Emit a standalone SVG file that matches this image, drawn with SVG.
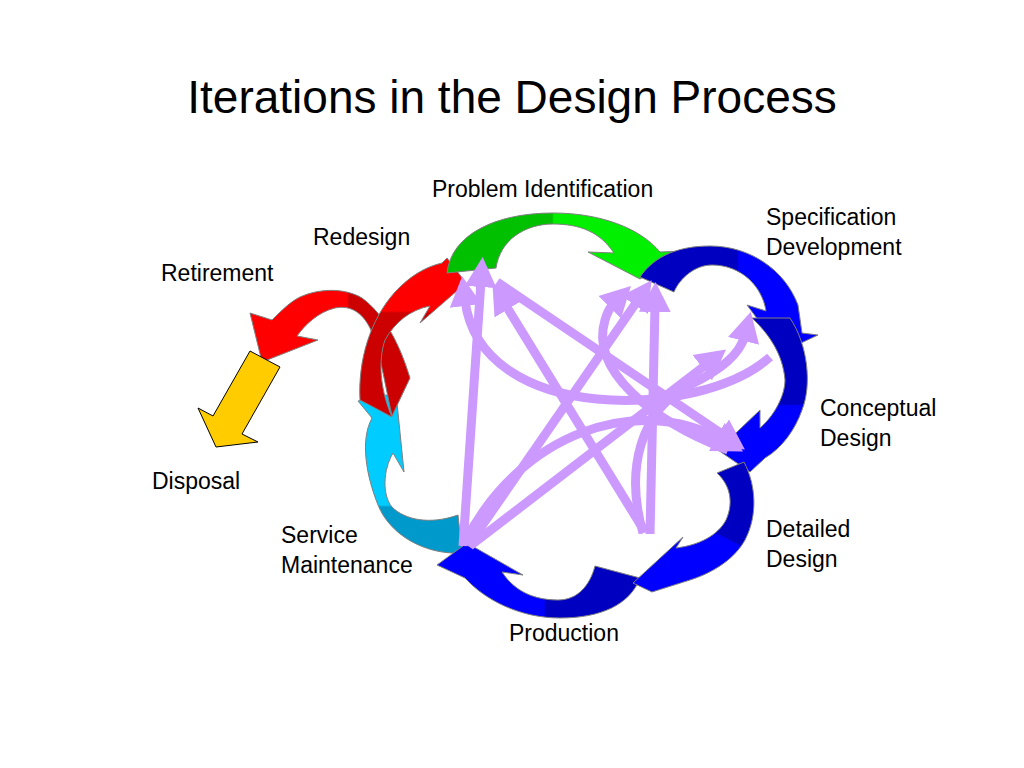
<svg xmlns="http://www.w3.org/2000/svg" width="1024" height="768" viewBox="0 0 1024 768">
<style>
.band{stroke:#808080;stroke-width:1;stroke-linejoin:miter}
.lbl{font-family:"Liberation Sans",Arial,sans-serif;font-size:23px;fill:#000}
.ttl{font-family:"Liberation Sans",Arial,sans-serif;font-size:46px;fill:#000}
.c{fill:none;stroke:#cc99ff;stroke-width:9;marker-end:url(#ah)}
</style>
<defs>
<marker id="ah" viewBox="0 -17 31 34" refX="6" refY="0" markerWidth="31" markerHeight="34" markerUnits="userSpaceOnUse" orient="auto"><path d="M0,-16 L30,0 L0,16 Z" fill="#cc99ff"/></marker>
<linearGradient id="gGreen" gradientUnits="userSpaceOnUse" x1="552" y1="0" x2="554" y2="0"><stop offset="0" stop-color="#00c000"/><stop offset="1" stop-color="#00f000"/></linearGradient>
<linearGradient id="gSpec" gradientUnits="userSpaceOnUse" x1="737" y1="0" x2="739" y2="0"><stop offset="0" stop-color="#0000c0"/><stop offset="1" stop-color="#0000ff"/></linearGradient>
<linearGradient id="gConc" gradientUnits="userSpaceOnUse" x1="0" y1="404" x2="0" y2="406"><stop offset="0" stop-color="#0000c0"/><stop offset="1" stop-color="#0000ff"/></linearGradient>
<linearGradient id="gDet" gradientUnits="userSpaceOnUse" x1="720.46" y1="534.11" x2="719.54" y2="535.89"><stop offset="0" stop-color="#0000c0"/><stop offset="1" stop-color="#0000ff"/></linearGradient>
<linearGradient id="gProd" gradientUnits="userSpaceOnUse" x1="544" y1="0" x2="546" y2="0"><stop offset="0" stop-color="#0000ff"/><stop offset="1" stop-color="#0000c0"/></linearGradient>
<linearGradient id="gServ" gradientUnits="userSpaceOnUse" x1="0" y1="505" x2="0" y2="507"><stop offset="0" stop-color="#00ccff"/><stop offset="1" stop-color="#0099cc"/></linearGradient>
<linearGradient id="gRedes" gradientUnits="userSpaceOnUse" x1="0" y1="311" x2="0" y2="313"><stop offset="0" stop-color="#ff0000"/><stop offset="1" stop-color="#cc0000"/></linearGradient>
<linearGradient id="gRet" gradientUnits="userSpaceOnUse" x1="347" y1="0" x2="349" y2="0"><stop offset="0" stop-color="#ff0000"/><stop offset="1" stop-color="#cc0000"/></linearGradient>
</defs>
<rect width="1024" height="768" fill="#ffffff"/>
<text class="ttl" x="512" y="113" text-anchor="middle">Iterations in the Design Process</text>

<g id="service-maintenance">
<path class="band" fill="url(#gServ)" d="M458,515 L462,553 C425,555 390,535 378,505 C366,475 360,440 372,418 L358,401 L396,393 L404,472 L393,453 C383,470 382,495 392,507 C405,520 430,525 458,515 Z"/>
<text class="lbl" x="281" y="543">Service</text>
<text class="lbl" x="281" y="573">Maintenance</text>
</g>

<g id="retirement">
<path class="band" fill="url(#gRet)" d="M410,378 C400,345 385,315 362,298 C345,288 320,288 300,297 C290,302 282,310 272,320 L250,313 L262,362 L318,340 L297,336 C305,325 318,312 335,308 C350,305 362,312 370,328 C380,350 385,385 392,416 Z"/>
<text class="lbl" x="161" y="281">Retirement</text>
</g>

<g id="redesign">
<path class="band" fill="url(#gRedes)" d="M360,400 C358,360 370,320 395,292 C410,276 425,267 442,263 L447,258 L466,283 L420,323 L430,306 C410,310 395,322 385,340 C378,360 380,390 392,417 Z"/>
<text class="lbl" x="313" y="245">Redesign</text>
</g>

<g id="disposal">
<path fill="#ffcc00" stroke="#000" stroke-width="1" d="M250,351 L280,367 L242,434 L258,442 L216,447 L198,408 L213,416 Z"/>
<text class="lbl" x="152" y="489">Disposal</text>
</g>

<g id="problem-identification">
<path class="band" fill="url(#gGreen)" d="M447,273 C451,235 495,213 553,213 C600,213 640,228 660,252 L686,251 L640,279 L588,252 L614,253 C600,232 580,224 553,224 C525,224 500,240 496,268 Z"/>
<text class="lbl" x="432" y="197">Problem Identification</text>
</g>

<g id="specification-development">
<path class="band" fill="url(#gSpec)" d="M640,277 C655,255 680,246 710,246 C750,246 785,270 798,305 L802,333 L818,335 L782,352 L747,305 L766,311 C762,285 740,265 712,265 C695,265 680,278 674,292 Z"/>
<text class="lbl" x="766" y="225">Specification</text>
<text class="lbl" x="766" y="255">Development</text>
</g>

<g id="conceptual-design">
<path class="band" fill="url(#gConc)" d="M752,318 L790,318 C808,345 812,385 802,410 C795,430 782,448 765,458 L750,472 L718,450 L760,410 L760,428 C775,415 785,395 785,380 C783,355 770,335 752,318 Z"/>
<text class="lbl" x="820" y="416">Conceptual</text>
<text class="lbl" x="820" y="446">Design</text>
</g>

<g id="production">
<path class="band" fill="url(#gProd)" d="M640,578 C630,605 600,618 560,618 C520,618 485,600 465,578 L437,565 L467,543 L523,575 L502,572 C515,592 535,600 558,600 C578,600 590,585 595,566 Z"/>
<text class="lbl" x="509" y="641">Production</text>
</g>

<g id="detailed-design">
<path class="band" fill="url(#gDet)" d="M717,473 L744,462 C756,485 758,515 745,540 C735,558 715,572 690,580 L652,592 L633,583 L683,537 L676,548 C700,545 718,535 726,520 C734,502 730,485 717,473 Z"/>
<text class="lbl" x="766" y="537">Detailed</text>
<text class="lbl" x="766" y="567">Design</text>
</g>

<g id="connectors">
<path class="c" d="M463,546 L481,281"/>
<path class="c" d="M650,534 L655,306"/>
<path class="c" d="M645,532 L505,304"/>
<path class="c" d="M468,546 L638,300"/>
<path class="c" d="M497,282 L725,436"/>
<path class="c" d="M770,357 C700,420 480,425 465,300"/>
<path class="c" d="M466,540 C520,435 635,392 722,440"/>
<path class="c" d="M470,546 L707,364"/>
<path class="c" d="M643,533 C625,470 640,410 690,385 C720,370 740,355 745,335"/>
<path class="c" d="M728,450 C650,420 590,370 605,320 C608,310 612,305 614,303"/>
</g>
</svg>
